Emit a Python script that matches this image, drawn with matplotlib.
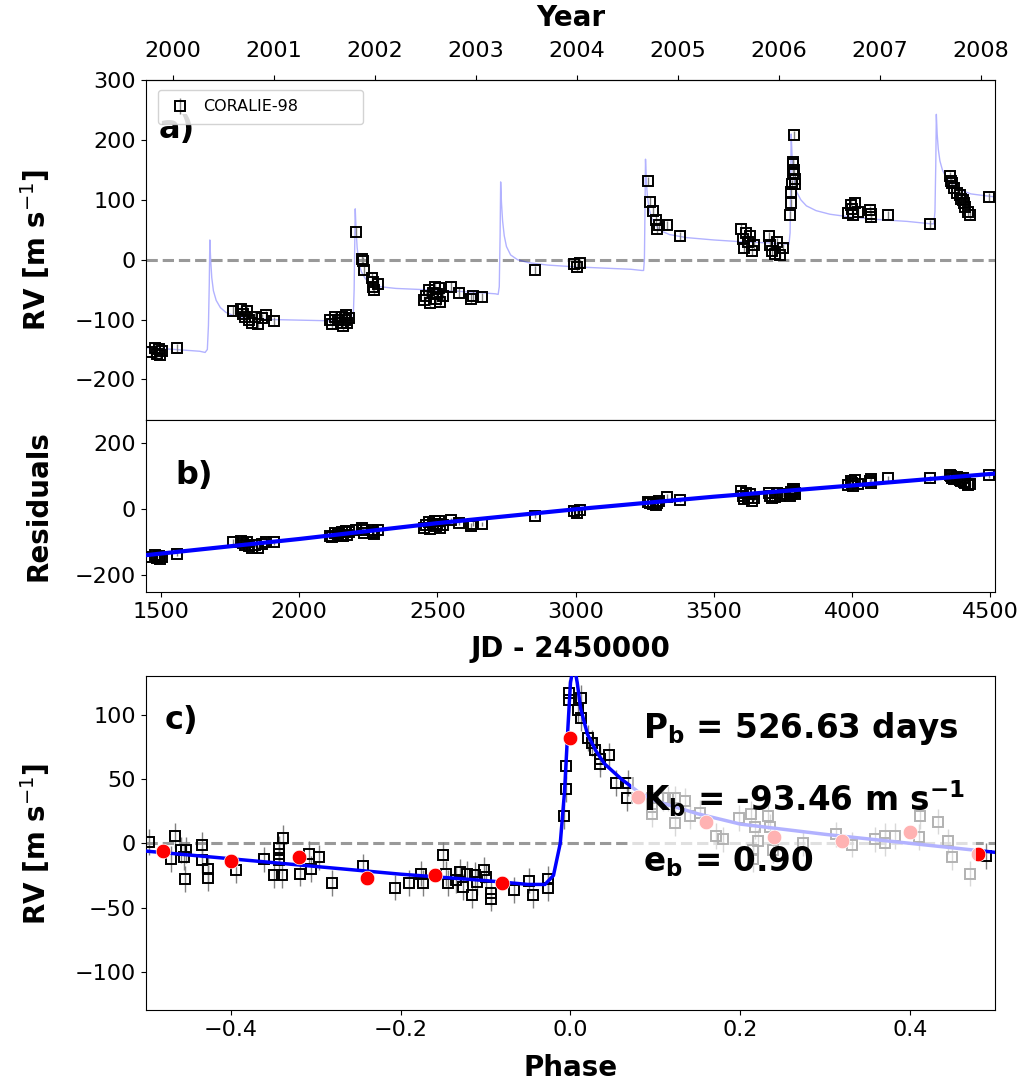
import matplotlib
matplotlib.use('Agg')
import matplotlib.pyplot as plt

# CORALIE-98 radial velocities, JD - 2450000 (panel a) and residuals (panel b)
jd = [1465, 1478, 1485, 1492, 1498, 1505, 1558,
      1760, 1790, 1797, 1805, 1812, 1820, 1830, 1840, 1850, 1865, 1880, 1910,
      2110, 2120, 2130, 2140, 2150, 2155, 2160, 2165, 2170, 2175, 2180,
      2206, 2228, 2232, 2236, 2262, 2266, 2268, 2272, 2285,
      2450, 2460, 2470, 2475, 2485, 2490, 2495, 2500, 2505, 2510, 2520, 2550, 2580,
      2620, 2630, 2660, 2854, 2995, 3005, 3015,
      3263, 3270, 3280, 3290, 3295, 3300, 3331, 3378,
      3600, 3605, 3610, 3615, 3625, 3630, 3640, 3645,
      3700, 3705, 3712, 3720, 3730, 3740, 3750,
      3775, 3778, 3780, 3783, 3785, 3786, 3788, 3789, 3790, 3792, 3795,
      3985, 3995, 4000, 4005, 4010, 4020, 4066, 4068, 4070, 4131, 4283,
      4355, 4358, 4362, 4370, 4380, 4390, 4395, 4400, 4405, 4410, 4420, 4425, 4497]
rv = [-155, -148, -158, -150, -160, -153, -148,
      -85, -82, -90, -95, -85, -100, -105, -95, -108, -97, -92, -102,
      -100, -108, -95, -100, -105, -95, -110, -100, -92, -106, -98,
      47, 2, -2, -18, -30, -38, -45, -50, -40,
      -68, -60, -50, -72, -55, -45, -65, -58, -48, -70, -60, -45, -55,
      -65, -60, -62, -17, -8, -12, -5,
      132, 97, 82, 67, 52, 58, 58, 40,
      52, 35, 20, 45, 30, 40, 15, 25,
      40, 25, 15, 10, 30, 8, 20,
      75, 95, 113, 127, 145, 160, 163, 208, 150, 127, 135,
      78, 92, 85, 75, 95, 80, 83, 72, 76, 75, 60,
      140, 132, 128, 120, 112, 108, 102, 100, 95, 88, 80, 75, 105]
resid = [-145, -138, -148, -140, -150, -143, -135,
         -98, -95, -102, -108, -98, -112, -117, -107, -118, -104, -99, -100,
         -80, -85, -72, -75, -80, -68, -82, -70, -65, -78, -68,
         -62, -58, -62, -72, -62, -70, -72, -75, -62,
         -58, -48, -38, -60, -44, -35, -52, -46, -36, -58, -48, -32, -42,
         -50, -44, -45, -20, -4, -10, -2,
         22, 18, 15, 14, 20, 25, 38, 28,
         55, 40, 30, 50, 35, 45, 25, 33,
         50, 40, 35, 38, 50, 40, 45,
         40, 45, 52, 50, 55, 58, 60, 62, 55, 45, 48,
         72, 85, 80, 70, 90, 75, 85, 78, 92, 94, 94,
         105, 100, 95, 92, 98, 90, 85, 95, 82, 78, 72, 75, 103]
rv_err = 7

# Keplerian + trend model (panel a)
model_jd = [1445, 1550, 1640, 1660, 1668, 1672, 1675, 1677, 1680, 1684, 1690, 1700, 1715,
            1735, 1760, 1800, 1900, 2000, 2100, 2180,
            2192, 2196, 2199, 2201, 2203, 2206, 2210, 2216, 2225, 2240, 2260, 2290,
            2350, 2450, 2550, 2650, 2710,
            2720, 2724, 2727, 2729, 2732, 2736, 2742, 2750, 2765, 2790, 2830, 2900,
            3000, 3100, 3200, 3240,
            3246, 3249, 3251, 3253, 3256, 3260, 3266, 3275, 3290, 3310, 3340, 3400,
            3500, 3600, 3700, 3765,
            3772, 3776, 3778, 3780, 3783, 3787, 3793, 3800, 3815, 3835, 3870, 3920,
            4000, 4100, 4200, 4285,
            4296, 4300, 4303, 4305, 4308, 4312, 4318, 4327, 4340, 4360, 4390, 4430,
            4480, 4518]
model_rv = [-147, -150, -153, -155, -150, -110, -40, 33, 0, -30, -52, -68, -80,
            -88, -93, -97, -100, -101, -102, -104,
            -104, -95, -50, 20, 85, 50, 20, -5, -20, -32, -40, -45,
            -48, -50, -52, -55, -57,
            -58, -45, 40, 130, 95, 65, 40, 22, 8, 0, -5, -9,
            -12, -14, -16, -18,
            -18, 0, 80, 168, 130, 105, 85, 70, 57, 48, 42, 37,
            33, 30, 28, 26,
            26, 45, 120, 210, 175, 150, 128, 113, 100, 90, 82, 76,
            71, 67, 64, 60,
            60, 80, 160, 243, 210, 185, 165, 150, 138, 127, 117, 110,
            107, 105]

# long-term trend (panel b)
trend_jd = [1445, 2000, 2500, 3000, 3500, 4000, 4518]
trend_rv = [-139, -90, -42, 0, 38, 72, 108]

# phase-folded data (panel c)
phase = [-0.496, -0.465, -0.47, -0.458, -0.452, -0.455, -0.454, -0.434, -0.434, -0.427,
         -0.427, -0.394, -0.361, -0.349, -0.34, -0.343, -0.343, -0.343, -0.338, -0.318,
         -0.308, -0.296, -0.306, -0.281,
         -0.244, -0.207, -0.19, -0.176, -0.173, -0.15, -0.147, -0.144, -0.135, -0.13,
         -0.126, -0.122, -0.116, -0.112, -0.11, -0.102, -0.1, -0.094, -0.093, -0.067,
         -0.049, -0.044, -0.027, -0.027,
         -0.008, -0.005, -0.005, -0.002, -0.002, 0.013, 0.009, 0.013, 0.021, 0.025,
         0.029, 0.035, 0.035, 0.045, 0.054, 0.068, 0.066,
         0.096, 0.096, 0.096, 0.109, 0.115, 0.123, 0.135, 0.141, 0.153, 0.123,
         0.171, 0.18, 0.198, 0.213, 0.217, 0.215, 0.215, 0.221, 0.233, 0.239,
         0.235, 0.274, 0.313, 0.331, 0.359, 0.37, 0.37, 0.382, 0.412, 0.41,
         0.433, 0.445, 0.449, 0.47, 0.489]
phase_rv = [1, 6, -12, -5, -5, -11, -28, -1.5, -13, -20,
            -27, -21, -12.5, -25, -25, -4, -8, -13, 4, -23.5,
            -8, -11, -20, -31,
            -18, -34.5, -31, -23.5, -31, -9, -23.5, -31, -28.5, -22,
            -34, -23.5, -40, -24.5, -30, -20.5, -26, -39, -43, -36.5,
            -29, -40, -27.5, -35,
            21, 42.5, 60.5, 117, 112, 113, 104, 97.5, 82, 78,
            72.5, 66, 62, 68.5, 47, 47, 35,
            35, 28, 23, 35, 35, 35, 33, 21, 24, 16,
            5.5, 3, 20, 23, 13, -5, -12, 1.5, 21, -5,
            13, 0, 7, -1, 3, 5.5, 0, 5.5, 21, 5,
            17, 1.5, -10.5, -23.5, -10]
phase_err = 10

# binned points
bin_phase = [-0.48, -0.40, -0.32, -0.24, -0.16, -0.08, 0.0, 0.08, 0.16, 0.24, 0.32, 0.40, 0.48]
bin_rv = [-6, -14, -11, -27, -25, -31, 82, 36, 17, 5, 2, 9, -8]

# Keplerian model in phase
model_phase = [-0.5, -0.4, -0.3, -0.2, -0.1, -0.05, -0.03, -0.02, -0.012, -0.007, -0.003,
               0.0, 0.004, 0.008, 0.012, 0.02, 0.03, 0.04, 0.06, 0.08, 0.1, 0.15, 0.2,
               0.3, 0.4, 0.5]
model_phase_rv = [-6, -12, -18, -24, -29, -32, -32, -25, 0, 40, 90,
                  125, 140, 125, 105, 85, 72, 62, 50, 40, 33, 23, 15,
                  7, 0, -7]

years = list(range(2000, 2009))


def jd_to_year(x):
    return 2000 + (x - 1544.5) / 365.25


def year_to_jd(y):
    return 1544.5 + (y - 2000) * 365.25


plt.rcParams['font.size'] = 16
lab = dict(fontweight='bold', fontsize=20)
fig = plt.figure(figsize=(10.26, 10.84), dpi=100)
ax_a = fig.add_axes([0.142, 0.6125, 0.828, 0.3135])
ax_b = fig.add_axes([0.142, 0.454, 0.828, 0.1585], sharex=ax_a)
ax_c = fig.add_axes([0.142, 0.068, 0.828, 0.308])

# panel a
ax_a.axhline(0, color='gray', ls='--', lw=2.2, alpha=0.8)
ax_a.plot(model_jd, model_rv, color='blue', lw=1, alpha=0.3)
ax_a.errorbar(jd, rv, yerr=rv_err, fmt='s', mfc='none', mec='k', ms=7, mew=1.4,
              ecolor='gray', elinewidth=1, capsize=0, label='CORALIE-98')
ax_a.set_ylim(-268, 300)
ax_a.set_xlim(1445, 4518)
ax_a.set_ylabel('RV [m s$^{-1}$]', labelpad=16, **lab)
ax_a.tick_params(labelbottom=False)
ax_a.text(0.015, 0.9, 'a)', transform=ax_a.transAxes, fontsize=23, fontweight='bold',
          va='top')
ax_a.legend(loc='upper left', bbox_to_anchor=(0.005, 0.995, 0.26, 0), mode='expand',
            fontsize=11.5, handlelength=1.6, handletextpad=0.6, borderpad=0.6,
            framealpha=0.85)
sec = ax_a.secondary_xaxis('top', functions=(jd_to_year, year_to_jd))
sec.set_xticks(years)
sec.tick_params(pad=10)
sec.set_xlabel('Year', labelpad=11, **lab)

# panel b
ax_b.plot(trend_jd, trend_rv, color='blue', lw=3, zorder=3)
ax_b.errorbar(jd, resid, yerr=rv_err, fmt='s', mfc='none', mec='k', ms=7, mew=1.4,
              ecolor='gray', elinewidth=1, capsize=0)
ax_b.set_ylim(-250, 270)
ax_b.set_ylabel('Residuals', labelpad=16, **lab)
ax_b.set_xlabel('JD - 2450000', labelpad=10, **lab)
ax_b.text(0.035, 0.77, 'b)', transform=ax_b.transAxes, fontsize=23, fontweight='bold',
          va='top')

# panel c
ax_c.axhline(0, color='gray', ls='--', lw=2.2, alpha=0.8)
ax_c.errorbar(phase, phase_rv, yerr=phase_err, fmt='s', mfc='none', mec='k', ms=7,
              mew=1.4, ecolor='gray', elinewidth=1, capsize=0)
ax_c.plot(model_phase, model_phase_rv, color='blue', lw=2.5, zorder=3)
ax_c.plot(bin_phase, bin_rv, 'o', color='red', ms=10.5, mec='white', mew=0.5, zorder=4)
ax_c.set_xlim(-0.5, 0.5)
ax_c.set_ylim(-130, 130)
ax_c.set_xticks([-0.4, -0.2, 0.0, 0.2, 0.4])
ax_c.set_ylabel('RV [m s$^{-1}$]', labelpad=16, **lab)
ax_c.set_xlabel('Phase', labelpad=10, **lab)
ax_c.text(0.022, 0.915, 'c)', transform=ax_c.transAxes, fontsize=23, fontweight='bold',
          va='top')
ax_c.text(0.585, 0.645,
          r'$\mathbf{P_b}$ = 526.63 days' + '\n'
          + r'$\mathbf{K_b}$ = -93.46 m s$^{\mathbf{-1}}$' + '\n'
          + r'$\mathbf{e_b}$ = 0.90',
          transform=ax_c.transAxes, fontsize=23.5, fontweight='bold', linespacing=1.95,
          va='center', zorder=10,
          bbox=dict(boxstyle='square,pad=0.35', facecolor='white',
                    edgecolor='none', alpha=0.7))

fig.savefig('out.png', dpi=100)
